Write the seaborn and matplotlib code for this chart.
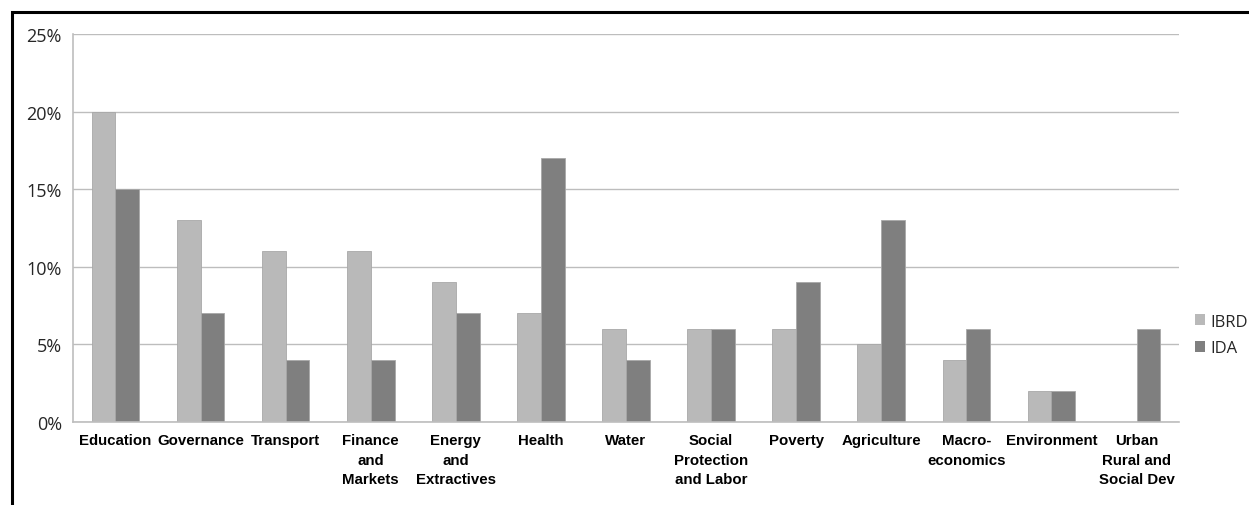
import matplotlib
matplotlib.use("Agg")
import matplotlib.pyplot as plt
import matplotlib.patches as mpatches
from matplotlib.ticker import FixedLocator, FuncFormatter
import seaborn as sns
import pandas as pd

sectors = ["Education", "Governance", "Transport", "Finance\nand\nMarkets",
           "Energy\nand\nExtractives", "Health", "Water", "Social\nProtection\nand Labor",
           "Poverty", "Agriculture", "Macro-\neconomics", "Environment",
           "Urban\nRural and\nSocial Dev"]
ibrd = [20, 13, 11, 11, 9, 7, 6, 6, 6, 5, 4, 2, 0]
ida = [15, 7, 4, 4, 7, 17, 4, 6, 9, 13, 6, 2, 6]
series = ["IBRD", "IDA"]
colors = ["#b9b9b9", "#7f7f7f"]
yticks = [0, 5, 10, 15, 20, 25]

df = pd.DataFrame({
    "sector": sectors * 2,
    "share": ibrd + ida,
    "lender": ["IBRD"] * len(sectors) + ["IDA"] * len(sectors),
})

sns.set_style("white")
fig = plt.figure(figsize=(12.49, 5.06), dpi=100)
ax = fig.add_axes([0.0584, 0.164, 0.8856, 0.767])

sns.barplot(data=df, x="sector", y="share", hue="lender", order=sectors,
            hue_order=series, palette=colors, width=0.56, gap=0,
            edgecolor="#a8a8a8", linewidth=0.6, ax=ax, legend=False)

ax.set_ylim(0, 25)
ax.set_xlim(-0.5, len(sectors) - 0.5)
ax.yaxis.set_major_locator(FixedLocator(yticks))
ax.yaxis.set_major_formatter(FuncFormatter(lambda v, p: f"{int(v)}%"))
ax.grid(axis="y", color="#bdbdbd", linewidth=1)
ax.set_axisbelow(True)
for side in ["top", "right"]:
    ax.spines[side].set_visible(False)
for side in ["left", "bottom"]:
    ax.spines[side].set_color("#bdbdbd")
    ax.spines[side].set_linewidth(1.2)

ax.set_xlabel("")
ax.set_ylabel("")
ax.tick_params(axis="x", length=0, pad=8)
ax.xaxis.set_minor_locator(FixedLocator([i - 0.5 for i in range(len(sectors) + 1)]))
ax.tick_params(axis="x", which="minor", length=6, color="#bdbdbd", width=1.2, direction="out")
ax.tick_params(axis="y", length=5, color="#bdbdbd", width=1.2, direction="out", pad=3)
for lbl in ax.get_xticklabels():
    lbl.set_fontfamily(["Liberation Sans", "DejaVu Sans"])
    lbl.set_fontweight("bold")
    lbl.set_fontsize(10.8)
    lbl.set_color("black")
    lbl.set_verticalalignment("top")
    lbl.set_horizontalalignment("center")
    lbl.set_multialignment("center")
    lbl.set_linespacing(1.5)
for lbl in ax.get_yticklabels():
    lbl.set_fontfamily(["Open Sans", "DejaVu Sans"])
    lbl.set_fontsize(13)
    lbl.set_color("#262626")

handles = [mpatches.Patch(facecolor=c, edgecolor="none", label=s) for s, c in zip(series, colors)]
leg = fig.legend(handles=handles, loc="upper left", bbox_to_anchor=(0.945, 0.408),
                 frameon=False, handlelength=0.6, handleheight=0.6, handletextpad=0.3,
                 labelspacing=0.65, prop={"family": ["Open Sans", "DejaVu Sans"], "size": 12})
for t in leg.get_texts():
    t.set_color("#262626")

# Frame around the chart area
fig.add_artist(mpatches.Rectangle((12 / 1249, -0.2), 1.5, 1 - 13 / 506 + 0.2,
                                  transform=fig.transFigure, fill=False,
                                  edgecolor="black", linewidth=2.2))

fig.savefig("out.png", dpi=100)
